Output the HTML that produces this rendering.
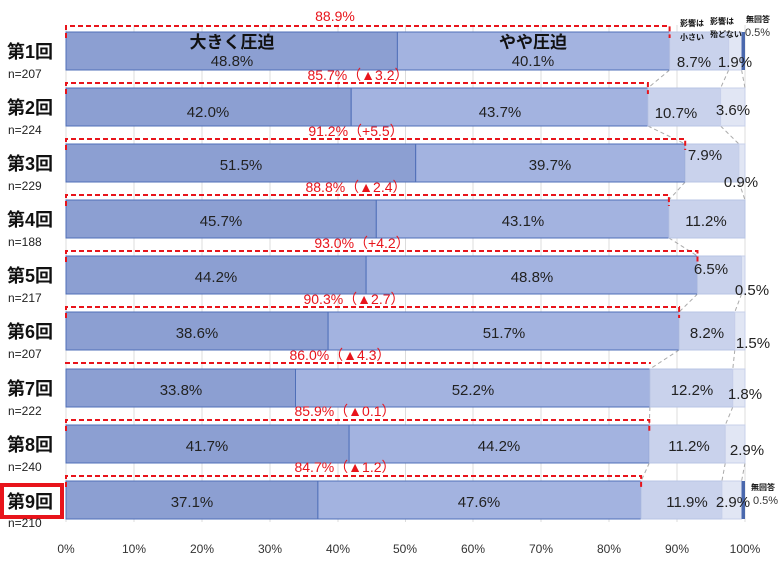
<!DOCTYPE html>
<html><head><meta charset="utf-8"><style>
body{margin:0;background:#fff;}
svg{display:block;font-family:"Liberation Sans","Noto Sans CJK JP",sans-serif;}
.v{font-size:15px;fill:#222;text-anchor:middle;}
.r{font-size:14px;fill:#e8141b;text-anchor:middle;}
.lb{font-size:18px;font-weight:bold;fill:#111;}
.n{font-size:12px;fill:#222;}
.ax{font-size:12px;fill:#333;text-anchor:middle;}
.s1{fill:#8c9fd2;stroke:#4f6fb8;stroke-width:1;}
.s2{fill:#a3b3e0;stroke:#4f6fb8;stroke-width:1;}
.s3{fill:#c9d2ec;stroke:#b8c4e4;stroke-width:1;}
.s4{fill:#e1e6f4;stroke:#c8d0ea;stroke-width:1;}
.s5{fill:#4a68ad;}
.bk{fill:none;stroke:#e8141b;stroke-width:2;stroke-dasharray:5,3;}
.tk{stroke:#e8141b;stroke-width:2;}
.cn{stroke:#aaa;stroke-width:1;stroke-dasharray:4,3;}
</style></head><body>
<svg width="780" height="571" viewBox="0 0 780 571">
<g stroke="#dcdcdc" stroke-width="1">
<line x1="66" y1="25" x2="66" y2="522"/><line x1="134" y1="25" x2="134" y2="522"/><line x1="202" y1="25" x2="202" y2="522"/><line x1="270" y1="25" x2="270" y2="522"/><line x1="338" y1="25" x2="338" y2="522"/><line x1="405.5" y1="25" x2="405.5" y2="522"/><line x1="473" y1="25" x2="473" y2="522"/><line x1="541" y1="25" x2="541" y2="522"/><line x1="609" y1="25" x2="609" y2="522"/><line x1="677" y1="25" x2="677" y2="522"/><line x1="745" y1="25" x2="745" y2="522"/>
</g>
<g class="ax">
<text x="66" y="553">0%</text><text x="134" y="553">10%</text><text x="202" y="553">20%</text><text x="270" y="553">30%</text><text x="338" y="553">40%</text><text x="405" y="553">50%</text><text x="473" y="553">60%</text><text x="541" y="553">70%</text><text x="609" y="553">80%</text><text x="677" y="553">90%</text><text x="745" y="553">100%</text>
</g>
<!-- connectors -->
<g class="cn">
<line x1="669.6" y1="70" x2="647.9" y2="88"/><line x1="728.7" y1="70" x2="720.6" y2="88"/><line x1="741.6" y1="70" x2="745" y2="88"/>
<line x1="647.9" y1="126" x2="685.2" y2="144"/><line x1="720.6" y1="126" x2="738.9" y2="144"/>
<line x1="685.2" y1="182" x2="668.9" y2="200"/><line x1="738.9" y1="182" x2="745" y2="200"/>
<line x1="668.9" y1="238" x2="697.5" y2="256"/>
<line x1="697.5" y1="294" x2="679.1" y2="312"/><line x1="741.6" y1="294" x2="734.8" y2="312"/>
<line x1="679.1" y1="350" x2="649.9" y2="369"/><line x1="734.8" y1="350" x2="732.8" y2="369"/>
<line x1="649.9" y1="407" x2="649.3" y2="425"/><line x1="732.8" y1="407" x2="725.3" y2="425"/>
<line x1="649.3" y1="463" x2="641.1" y2="481"/><line x1="725.3" y1="463" x2="721.9" y2="481"/><line x1="745" y1="463" x2="741.6" y2="481"/>
</g>
<!-- Row1 -->
<rect class="s1" x="66" y="32" width="331.4" height="38"/><rect class="s2" x="397.4" y="32" width="272.2" height="38"/><rect class="s3" x="669.6" y="32" width="59.1" height="38"/><rect class="s4" x="728.7" y="32" width="12.9" height="38"/><rect class="s5" x="741.6" y="32" width="3.4" height="38"/>
<text x="232" y="48" style="font-size:17px;font-weight:bold;fill:#111;text-anchor:middle">大きく圧迫</text><text class="v" x="232" y="66">48.8%</text>
<text x="533" y="48" style="font-size:17px;font-weight:bold;fill:#111;text-anchor:middle">やや圧迫</text><text class="v" x="533" y="66">40.1%</text>
<text x="680" y="26" style="font-size:8px;font-weight:bold;fill:#111">影響は</text><text x="680" y="40" style="font-size:8px;font-weight:bold;fill:#111">小さい</text>
<text x="710" y="24" style="font-size:8px;font-weight:bold;fill:#111">影響は</text><text x="710" y="37" style="font-size:8px;font-weight:bold;fill:#111">殆どない</text>
<text x="746" y="22" style="font-size:8px;font-weight:bold;fill:#111">無回答</text><text x="745" y="36" style="font-size:11px;fill:#333">0.5%</text>
<text class="v" x="694" y="67">8.7%</text><text class="v" x="735" y="67">1.9%</text>
<path class="bk" d="M66 38 V26 H669.6 V38"/><text class="r" x="335" y="21">88.9%</text>
<!-- Row2 -->
<rect class="s1" x="66" y="88" width="285.2" height="38"/><rect class="s2" x="351.2" y="88" width="296.7" height="38"/><rect class="s3" x="647.9" y="88" width="72.7" height="38"/><rect class="s4" x="720.6" y="88" width="24.4" height="38"/>
<text class="v" x="208" y="117">42.0%</text><text class="v" x="500" y="117">43.7%</text><text class="v" x="676" y="118">10.7%</text><text class="v" x="733" y="115">3.6%</text>
<path class="bk" d="M66 94 V83 H647.9 V94"/><text class="r" x="358" y="80">85.7%（▲3.2）</text>
<!-- Row3 -->
<rect class="s1" x="66" y="144" width="349.7" height="38"/><rect class="s2" x="415.7" y="144" width="269.5" height="38"/><rect class="s3" x="685.2" y="144" width="53.7" height="38"/><rect class="s4" x="738.9" y="144" width="6.1" height="38"/>
<text class="v" x="241" y="170">51.5%</text><text class="v" x="550" y="170">39.7%</text><text class="v" x="705" y="160">7.9%</text><text class="v" x="741" y="187">0.9%</text>
<path class="bk" d="M66 150 V139 H685.2 V150"/><text class="r" x="356" y="136">91.2%（+5.5）</text>
<!-- Row4 -->
<rect class="s1" x="66" y="200" width="310.3" height="38"/><rect class="s2" x="376.3" y="200" width="292.6" height="38"/><rect class="s3" x="668.9" y="200" width="76.1" height="38"/>
<text class="v" x="221" y="226">45.7%</text><text class="v" x="523" y="226">43.1%</text><text class="v" x="706" y="226">11.2%</text>
<path class="bk" d="M66 206 V195 H668.9 V206"/><text class="r" x="356" y="192">88.8%（▲2.4）</text>
<!-- Row5 -->
<rect class="s1" x="66" y="256" width="300.1" height="38"/><rect class="s2" x="366.1" y="256" width="331.4" height="38"/><rect class="s3" x="697.5" y="256" width="44.1" height="38"/><rect class="s4" x="741.6" y="256" width="3.4" height="38"/>
<text class="v" x="216" y="282">44.2%</text><text class="v" x="532" y="282">48.8%</text><text class="v" x="711" y="274">6.5%</text><text class="v" x="752" y="295">0.5%</text>
<path class="bk" d="M66 262 V251 H697.5 V262"/><text class="r" x="362" y="248">93.0%（+4.2）</text>
<!-- Row6 -->
<rect class="s1" x="66" y="312" width="262.1" height="38"/><rect class="s2" x="328.1" y="312" width="351" height="38"/><rect class="s3" x="679.1" y="312" width="55.7" height="38"/><rect class="s4" x="734.8" y="312" width="10.2" height="38"/>
<text class="v" x="197" y="338">38.6%</text><text class="v" x="504" y="338">51.7%</text><text class="v" x="707" y="338">8.2%</text><text class="v" x="753" y="348">1.5%</text>
<path class="bk" d="M66 318 V307 H679.1 V318"/><text class="r" x="354" y="304">90.3%（▲2.7）</text>
<!-- Row7 -->
<rect class="s1" x="66" y="369" width="229.5" height="38"/><rect class="s2" x="295.5" y="369" width="354.4" height="38"/><rect class="s3" x="649.9" y="369" width="82.9" height="38"/><rect class="s4" x="732.8" y="369" width="12.2" height="38"/>
<text class="v" x="181" y="395">33.8%</text><text class="v" x="473" y="395">52.2%</text><text class="v" x="692" y="395">12.2%</text><text class="v" x="745" y="399">1.8%</text>
<path class="bk" d="M66 364 V363 H649.9 V364"/><text class="r" x="340" y="360">86.0%（▲4.3）</text>
<!-- Row8 -->
<rect class="s1" x="66" y="425" width="283.1" height="38"/><rect class="s2" x="349.1" y="425" width="300.2" height="38"/><rect class="s3" x="649.3" y="425" width="76" height="38"/><rect class="s4" x="725.3" y="425" width="19.7" height="38"/>
<text class="v" x="207" y="451">41.7%</text><text class="v" x="499" y="451">44.2%</text><text class="v" x="689" y="451">11.2%</text><text class="v" x="747" y="455">2.9%</text>
<path class="bk" d="M66 431 V420 H649.3 V431"/><text class="r" x="345" y="416">85.9%（▲0.1）</text>
<!-- Row9 -->
<rect class="s1" x="66" y="481" width="251.9" height="38"/><rect class="s2" x="317.9" y="481" width="323.2" height="38"/><rect class="s3" x="641.1" y="481" width="80.8" height="38"/><rect class="s4" x="721.9" y="481" width="19.7" height="38"/><rect class="s5" x="741.6" y="481" width="3.4" height="38"/>
<text class="v" x="192" y="507">37.1%</text><text class="v" x="479" y="507">47.6%</text><text class="v" x="687" y="507">11.9%</text><text class="v" x="733" y="507">2.9%</text>
<text x="751" y="490" style="font-size:8px;font-weight:bold;fill:#111">無回答</text><text x="753" y="504" style="font-size:11px;fill:#333">0.5%</text>
<path class="bk" d="M66 487 V476 H641.1 V487"/><text class="r" x="345" y="472">84.7%（▲1.2）</text>
<!-- labels -->
<text class="lb" x="7" y="58">第1回</text><text class="n" x="8" y="78">n=207</text>
<text class="lb" x="7" y="114">第2回</text><text class="n" x="8" y="134">n=224</text>
<text class="lb" x="7" y="170">第3回</text><text class="n" x="8" y="190">n=229</text>
<text class="lb" x="7" y="226">第4回</text><text class="n" x="8" y="246">n=188</text>
<text class="lb" x="7" y="282">第5回</text><text class="n" x="8" y="302">n=217</text>
<text class="lb" x="7" y="338">第6回</text><text class="n" x="8" y="358">n=207</text>
<text class="lb" x="7" y="395">第7回</text><text class="n" x="8" y="415">n=222</text>
<text class="lb" x="7" y="451">第8回</text><text class="n" x="8" y="471">n=240</text>
<rect x="2" y="485" width="60" height="32" fill="#fff" stroke="#e8141b" stroke-width="4"/>
<text class="lb" x="7" y="508">第9回</text><text class="n" x="8" y="527">n=210</text>
</svg>
</body></html>
